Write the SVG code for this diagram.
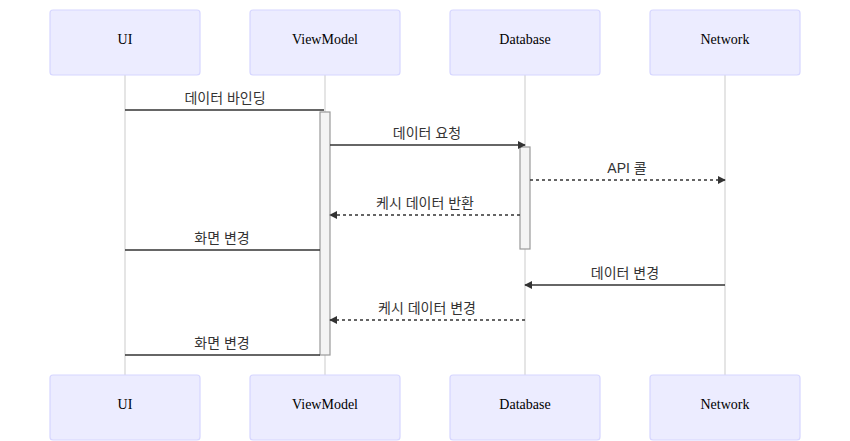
<svg xmlns="http://www.w3.org/2000/svg" width="850" height="441" viewBox="0 0 850 441">
<style>
.actor{fill:#ECECFF;stroke:#D6D6FF;stroke-width:1.2}
.atext{font-family:"Liberation Serif","Times New Roman",serif;font-size:14px;fill:#000;text-anchor:middle;dominant-baseline:central}
.life{stroke:#dcdcdc;stroke-width:1.5}
.act{fill:#f4f4f4;stroke:#999;stroke-width:1.2}
.msg{stroke:#333;stroke-width:1.5;fill:none}
.dot{stroke-dasharray:3,3}
.mtext{font-family:"Liberation Sans","Noto Sans CJK KR",sans-serif;font-size:14px;fill:#333;text-anchor:middle}
</style>
<defs>
<marker id="ah" viewBox="0 0 10 10" refX="9" refY="5" markerWidth="8" markerHeight="8" markerUnits="userSpaceOnUse" orient="auto">
<path d="M0,0 L10,5 L0,10 z" fill="#333"/>
</marker>
</defs>
<g id="lifelines">
<line class="life" x1="125" y1="75" x2="125" y2="375"/>
<line class="life" x1="325" y1="75" x2="325" y2="375"/>
<line class="life" x1="525" y1="75" x2="525" y2="375"/>
<line class="life" x1="725" y1="75" x2="725" y2="375"/>
</g>
<g id="actor-UI"><rect class="actor" x="50" y="10" width="150" height="65" rx="3"/><text class="atext" x="125" y="39">UI</text></g>
<g id="actor-ViewModel"><rect class="actor" x="250" y="10" width="150" height="65" rx="3"/><text class="atext" x="325" y="39">ViewModel</text></g>
<g id="actor-Database"><rect class="actor" x="450" y="10" width="150" height="65" rx="3"/><text class="atext" x="525" y="39">Database</text></g>
<g id="actor-Network"><rect class="actor" x="650" y="10" width="150" height="65" rx="3"/><text class="atext" x="725" y="39">Network</text></g>
<g id="actor-UI-bottom"><rect class="actor" x="50" y="375" width="150" height="65" rx="3"/><text class="atext" x="125" y="404">UI</text></g>
<g id="actor-ViewModel-bottom"><rect class="actor" x="250" y="375" width="150" height="65" rx="3"/><text class="atext" x="325" y="404">ViewModel</text></g>
<g id="actor-Database-bottom"><rect class="actor" x="450" y="375" width="150" height="65" rx="3"/><text class="atext" x="525" y="404">Database</text></g>
<g id="actor-Network-bottom"><rect class="actor" x="650" y="375" width="150" height="65" rx="3"/><text class="atext" x="725" y="404">Network</text></g>
<g id="activations">
<rect class="act" x="320" y="112" width="10" height="243"/>
<rect class="act" x="520" y="147" width="10" height="102"/>
</g>
<g id="connectors">
<line class="msg" x1="125" y1="110" x2="324" y2="110"/>
<text class="mtext" x="225" y="103">데이터 바인딩</text>
<line class="msg" x1="330" y1="145" x2="525" y2="145" marker-end="url(#ah)"/>
<text class="mtext" x="427" y="138">데이터 요청</text>
<line class="msg dot" x1="530" y1="180" x2="725" y2="180" marker-end="url(#ah)"/>
<text class="mtext" x="627" y="173">API 콜</text>
<line class="msg dot" x1="520" y1="215" x2="330" y2="215" marker-end="url(#ah)"/>
<text class="mtext" x="425" y="208">케시 데이터 반환</text>
<line class="msg" x1="320" y1="250" x2="125" y2="250"/>
<text class="mtext" x="222" y="243">화면 변경</text>
<line class="msg" x1="725" y1="285" x2="525" y2="285" marker-end="url(#ah)"/>
<text class="mtext" x="625" y="278">데이터 변경</text>
<line class="msg dot" x1="525" y1="320" x2="330" y2="320" marker-end="url(#ah)"/>
<text class="mtext" x="427" y="313">케시 데이터 변경</text>
<line class="msg" x1="320" y1="355" x2="125" y2="355"/>
<text class="mtext" x="222" y="348">화면 변경</text>
</g>
</svg>
